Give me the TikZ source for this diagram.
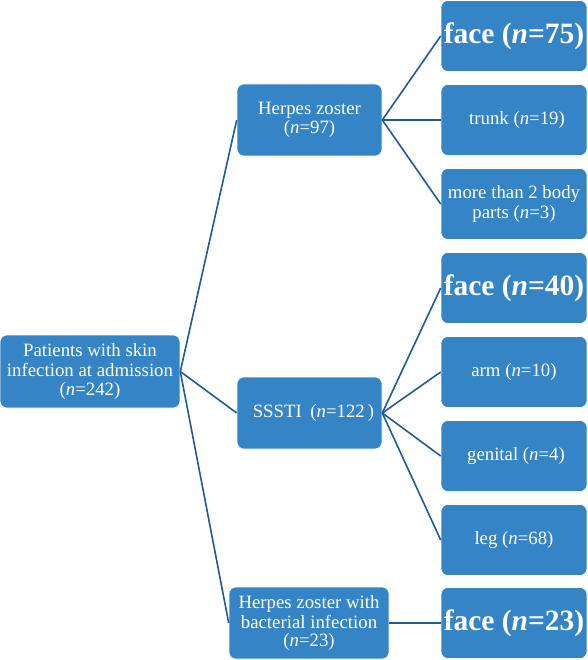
\documentclass[tikz,border=0pt]{standalone}
\usepackage{fontspec}
\setmainfont{Liberation Serif}
\definecolor{boxblue}{RGB}{52,132,198}
\definecolor{linkblue}{RGB}{28,92,156}
\begin{document}
\begin{tikzpicture}[x=1pt,y=-1pt,
  box/.style={draw=white,line width=0.6pt,fill=boxblue,rounded corners=7pt,
    text=white,align=center,inner sep=2pt,font=\fontsize{18.8}{19.5}\selectfont},
  rbox/.style={box,minimum width=146pt,minimum height=71pt},
  mbox/.style={box,minimum width=145pt,minimum height=72pt},
  big/.style={font=\fontsize{29.5}{31}\selectfont\bfseries},
  link/.style={draw=linkblue,line width=1.6pt}]
\useasboundingbox (0,0) rectangle (587,660);
% connectors (drawn first, boxes cover their ends)
\coordinate (rootE) at (180,371.5);
\coordinate (hzW) at (237,120);
\coordinate (ssW) at (237,413);
\coordinate (hzbW) at (229,623);
% nodes
\node[box,minimum width=180pt,minimum height=73pt] (root) at (90,371.5)
  {Patients with skin\\infection at admission\\(\textit{n}=242)};
\node[mbox] (hz) at (309.5,120) {Herpes zoster\\(\textit{n}=97)};
\node[mbox] (ss) at (309.5,413) {\hspace*{8pt}SSSTI\hspace{0.45em}(\textit{n}=122\,)};
\node[box,minimum width=160pt,minimum height=72pt] (hzb) at (309,623)
  {Herpes zoster with\\bacterial infection\\[-1.5pt](\textit{n}=23)};
\node[rbox,big] (f75) at (514,36) {face (\textit{n}=75)};
\node[rbox] (tr) at (514,120) {\hspace*{6pt}trunk (\textit{n}=19)};
\node[rbox] (mo) at (514,204) {more than 2 body\\parts (\textit{n}=3)};
\node[rbox,big] (f40) at (514,288) {face (\textit{n}=40)};
\node[rbox] (arm) at (514,372) {arm (\textit{n}=10)};
\node[rbox] (gen) at (514,456) {\hspace*{4pt}genital (\textit{n}=4)};
\node[rbox] (leg) at (514,540) {leg (\textit{n}=68)};
\node[rbox,big] (f23) at (514,623) {face (\textit{n}=23)};
\path[link] (root.east) -- (hz.west);
\path[link] (root.east) -- (ss.west);
\path[link] (root.east) -- (hzb.west);
\path[link] (hz.east) -- (f75.west);
\path[link] (hz.east) -- (tr.west);
\path[link] (hz.east) -- (mo.west);
\path[link] (ss.east) -- (f40.west);
\path[link] (ss.east) -- (arm.west);
\path[link] (ss.east) -- (gen.west);
\path[link] (ss.east) -- (leg.west);
\path[link] (hzb.east) -- (f23.west);
\end{tikzpicture}
\end{document}
